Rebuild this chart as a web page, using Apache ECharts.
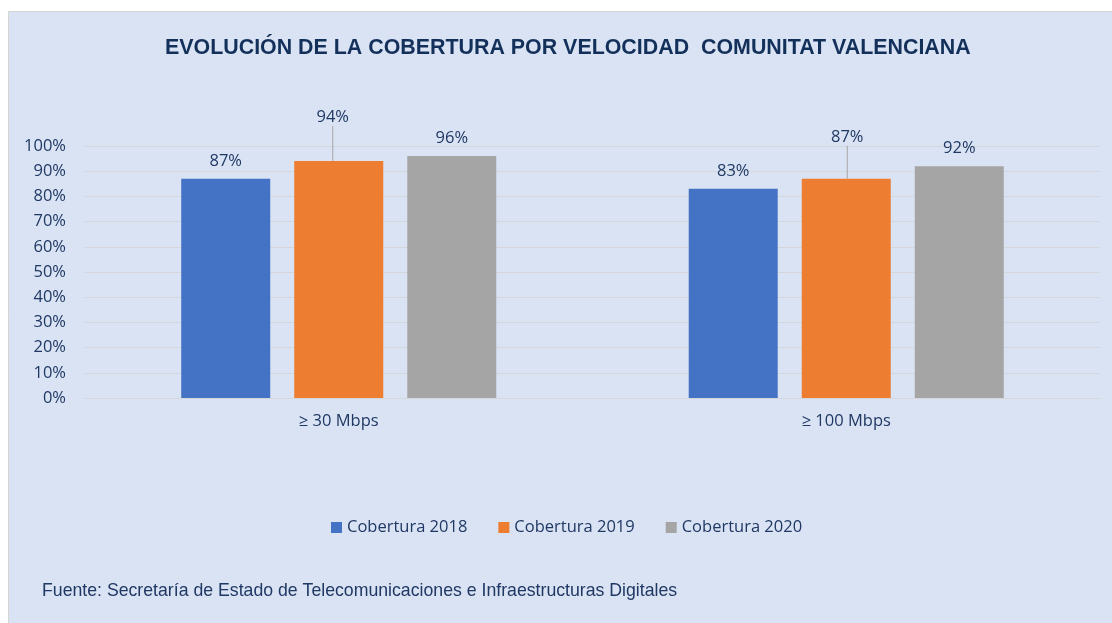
<!DOCTYPE html>
<html>
<head>
<meta charset="utf-8">
<script src="https://cdn.jsdelivr.net/npm/echarts@6/dist/echarts.min.js"></script>
<style>
  html, body { margin: 0; padding: 0; background: #ffffff; }
  #chart { width: 1112px; height: 623px; }
</style>
</head>
<body>
<div id="chart"></div>
<script>
// Coverage by broadband speed, Comunitat Valenciana
const categories = ['\u2265 30 Mbps', '\u2265 100 Mbps'];
const seriesNames = ['Cobertura 2018', 'Cobertura 2019', 'Cobertura 2020'];
const cobertura2018 = [0.87, 0.83];
const cobertura2019 = [0.94, 0.87];
const cobertura2020 = [0.96, 0.92];
const yTicks = [0, 0.1, 0.2, 0.3, 0.4, 0.5, 0.6, 0.7, 0.8, 0.9, 1.0];

const colors = ['#4472C4', '#ED7D31', '#A5A5A5'];
const textColor = '#1f3864';
const bodyFont = '"Open Sans", sans-serif';
const bodySize = 16.5;

const pct = v => Math.round(v * 100) + '%';

function barSeries(name, data, idx, extra) {
  return Object.assign({
    name: name,
    type: 'bar',
    data: data,
    barWidth: 89,
    barGap: '27%',
    itemStyle: { color: colors[idx] },
    label: {
      show: true,
      position: 'top',
      distance: 9,
      color: textColor,
      fontFamily: bodyFont,
      fontSize: bodySize,
      formatter: p => pct(p.value)
    }
  }, extra || {});
}

const chart = echarts.init(document.getElementById('chart'), null, { renderer: 'canvas' });
chart.setOption({
  animation: false,
  backgroundColor: '#ffffff',
  graphic: [
    {
      type: 'rect',
      z: -10,
      shape: { x: 8.5, y: 11.5, width: 1110, height: 620 },
      style: { fill: '#dae3f3', stroke: '#d4d6d2', lineWidth: 1 }
    },
    {
      type: 'text',
      left: 42,
      top: 582,
      style: {
        text: 'Fuente: Secretar\u00eda de Estado de Telecomunicaciones e Infraestructuras Digitales',
        fill: textColor,
        font: '17.7px "Liberation Sans", sans-serif'
      }
    }
  ],
  title: {
    text: 'EVOLUCI\u00d3N DE LA COBERTURA POR VELOCIDAD  COMUNITAT VALENCIANA',
    left: 160,
    top: 33,
    textStyle: {
      color: '#13305a',
      fontFamily: '"Liberation Sans", sans-serif',
      fontWeight: 'bold',
      fontSize: 21.4
    }
  },
  legend: {
    data: seriesNames,
    left: 326,
    top: 514,
    itemWidth: 11,
    itemHeight: 11,
    itemGap: 31,
    icon: 'rect',
    textStyle: { color: textColor, fontFamily: bodyFont, fontSize: bodySize }
  },
  grid: { left: 85, right: 12, top: 146, bottom: 225 },
  xAxis: {
    type: 'category',
    data: categories,
    axisLine: { show: true, lineStyle: { color: '#d4d6da' } },
    axisTick: { show: false },
    axisLabel: { color: textColor, fontFamily: bodyFont, fontSize: bodySize, margin: 15 }
  },
  yAxis: {
    type: 'value',
    min: yTicks[0],
    max: yTicks[yTicks.length - 1],
    interval: yTicks[1] - yTicks[0],
    axisLine: { show: false },
    axisTick: { show: false },
    splitLine: { lineStyle: { color: '#d4d6da', width: 1 } },
    axisLabel: {
      color: textColor,
      fontFamily: bodyFont,
      fontSize: bodySize,
      margin: 19,
      formatter: v => pct(v)
    }
  },
  series: [
    barSeries(seriesNames[0], cobertura2018, 0),
    barSeries(seriesNames[1], cobertura2019, 1, {
      labelLine: { show: true, lineStyle: { color: '#a6a6a6', width: 1 } },
      labelLayout: p => p.dataIndex === 0 ? { dx: -6, dy: -26 } : { dx: 1, dy: -24 }
    }),
    barSeries(seriesNames[2], cobertura2020, 2)
  ]
});
</script>
</body>
</html>
